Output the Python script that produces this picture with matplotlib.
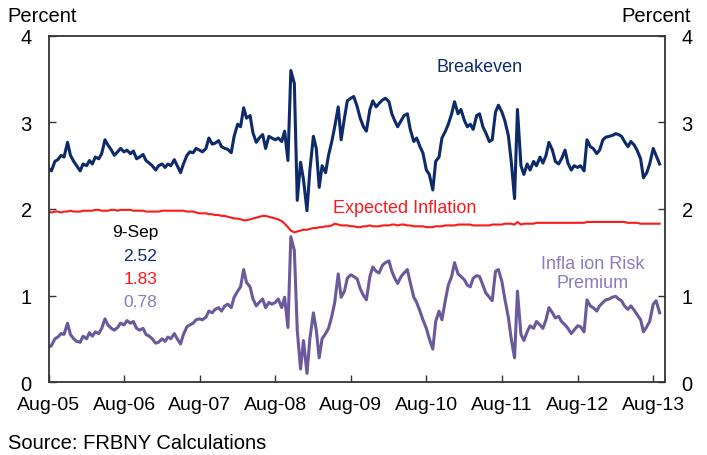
import pandas as pd
import matplotlib
matplotlib.use("Agg")
import matplotlib.pyplot as plt

plt.rcParams["font.family"] = ["Liberation Sans", "DejaVu Sans"]

# ===================== Data (semi-monthly) =====================
breakeven = [
    # Aug-05 .. Aug-06
    2.47, 2.44, 2.55, 2.57, 2.62, 2.60, 2.77, 2.62, 2.55, 2.50, 2.44, 2.52, 2.50,
    2.56, 2.52, 2.60, 2.58, 2.64, 2.80, 2.74, 2.68, 2.62, 2.66, 2.70, 2.66,
    # -> Aug-07
    2.68, 2.64, 2.67, 2.58, 2.60, 2.63, 2.56, 2.53, 2.50, 2.45, 2.50, 2.52,
    2.48, 2.52, 2.50, 2.57, 2.50, 2.42, 2.52, 2.62, 2.66, 2.65, 2.70, 2.68,
    # -> Aug-08
    2.66, 2.70, 2.82, 2.75, 2.76, 2.79, 2.72, 2.70, 2.69, 2.65, 2.84, 2.98,
    2.95, 3.17, 3.05, 3.08, 2.88, 2.77, 2.82, 2.86, 2.70, 2.84, 2.82, 2.80,
    # -> Aug-09
    2.82, 2.78, 2.90, 2.56, 3.60, 3.45, 2.10, 2.54, 2.34, 1.98, 2.45, 2.84,
    2.70, 2.25, 2.50, 2.42, 2.62, 2.78, 2.95, 3.18, 2.80, 3.05, 3.25, 3.28,
    # -> Aug-10
    3.30, 3.18, 3.05, 2.95, 2.90, 3.15, 3.25, 3.18, 3.22, 3.26, 3.28, 3.24,
    3.10, 3.02, 2.95, 3.02, 3.08, 3.10, 2.92, 2.78, 2.82, 2.72, 2.65, 2.45,
    # -> Aug-11
    2.40, 2.22, 2.55, 2.60, 2.82, 2.90, 2.98, 3.10, 3.24, 3.10, 3.15, 3.02,
    2.95, 2.98, 2.92, 3.08, 3.10, 2.95, 2.88, 2.78, 2.80, 3.12, 3.20, 3.12,
    # -> Aug-12
    3.02, 2.85, 2.55, 2.12, 3.15, 2.50, 2.40, 2.52, 2.45, 2.55, 2.50, 2.60,
    2.53, 2.62, 2.77, 2.68, 2.55, 2.52, 2.58, 2.68, 2.53, 2.45, 2.50, 2.48,
    # -> Sep-13
    2.50, 2.44, 2.80, 2.72, 2.70, 2.64, 2.68, 2.80, 2.83, 2.84, 2.85, 2.87,
    2.86, 2.84, 2.78, 2.72, 2.78, 2.74, 2.68, 2.58, 2.36, 2.42, 2.52, 2.70,
    2.62, 2.52,
]

expected_inflation = [
    1.97, 1.96, 1.97, 1.97, 1.96, 1.97, 1.97, 1.98, 1.97, 1.97, 1.97, 1.98, 1.98,
    1.98, 1.98, 1.99, 1.99, 1.98, 1.98, 1.98, 1.99, 1.99, 1.98, 1.99, 1.99,
    1.99, 1.99, 1.98, 1.98, 1.98, 1.98, 1.97, 1.97, 1.97, 1.97, 1.97, 1.98,
    1.98, 1.98, 1.98, 1.98, 1.98, 1.98, 1.98, 1.97, 1.97, 1.97, 1.96, 1.95,
    1.95, 1.95, 1.94, 1.94, 1.93, 1.93, 1.92, 1.92, 1.91, 1.90, 1.89, 1.89,
    1.88, 1.87, 1.87, 1.88, 1.89, 1.90, 1.91, 1.92, 1.92, 1.91, 1.90, 1.89,
    1.88, 1.86, 1.83, 1.79, 1.75, 1.73, 1.74, 1.75, 1.76, 1.76, 1.77, 1.78,
    1.78, 1.79, 1.79, 1.80, 1.80, 1.81, 1.83, 1.82, 1.81, 1.81, 1.81, 1.80,
    1.80, 1.79, 1.79, 1.80, 1.80, 1.81, 1.80, 1.80, 1.80, 1.81, 1.81, 1.81,
    1.82, 1.82, 1.81, 1.82, 1.82, 1.81, 1.81, 1.80, 1.80, 1.80, 1.80, 1.79,
    1.79, 1.79, 1.80, 1.80, 1.80, 1.81, 1.81, 1.81, 1.81, 1.82, 1.82, 1.82,
    1.82, 1.82, 1.81, 1.81, 1.81, 1.81, 1.81, 1.81, 1.82, 1.82, 1.82, 1.82,
    1.83, 1.83, 1.83, 1.82, 1.85, 1.82, 1.83, 1.83, 1.83, 1.83, 1.84, 1.84,
    1.84, 1.84, 1.84, 1.84, 1.84, 1.84, 1.84, 1.84, 1.84, 1.84, 1.84, 1.84,
    1.84, 1.84, 1.85, 1.85, 1.85, 1.85, 1.85, 1.85, 1.85, 1.85, 1.85, 1.85,
    1.85, 1.85, 1.85, 1.84, 1.84, 1.84, 1.84, 1.83, 1.83, 1.83, 1.83, 1.83,
    1.83, 1.83,
]

risk_premium = [
    0.40, 0.42, 0.50, 0.52, 0.56, 0.55, 0.68, 0.55, 0.50, 0.47, 0.46, 0.53, 0.50,
    0.57, 0.53, 0.58, 0.56, 0.62, 0.73, 0.66, 0.62, 0.60, 0.63, 0.68, 0.66,
    0.71, 0.68, 0.70, 0.62, 0.60, 0.62, 0.55, 0.53, 0.50, 0.45, 0.46, 0.50,
    0.47, 0.52, 0.50, 0.56, 0.50, 0.44, 0.55, 0.64, 0.66, 0.68, 0.72, 0.73,
    0.72, 0.75, 0.82, 0.80, 0.84, 0.86, 0.82, 0.88, 0.90, 0.86, 0.98, 1.05,
    1.10, 1.30, 1.15, 1.10, 0.96, 0.88, 0.92, 0.96, 0.86, 0.92, 0.90, 0.92,
    0.96, 0.86, 0.98, 0.63, 1.68, 1.52, 0.60, 0.15, 0.48, 0.10, 0.50, 0.80,
    0.60, 0.28, 0.50, 0.56, 0.62, 0.76, 0.92, 1.25, 0.98, 1.05, 1.20, 1.24,
    1.22, 1.19, 1.08, 1.00, 0.95, 1.22, 1.33, 1.28, 1.26, 1.35, 1.38, 1.40,
    1.28, 1.20, 1.14, 1.22, 1.26, 1.30, 1.15, 0.98, 0.92, 0.82, 0.72, 0.62,
    0.50, 0.38, 0.70, 0.82, 0.72, 0.95, 1.12, 1.22, 1.38, 1.25, 1.22, 1.18,
    1.12, 1.10, 1.20, 1.23, 1.22, 1.12, 1.03, 0.98, 0.94, 1.28, 1.30, 1.16,
    0.96, 0.75, 0.50, 0.28, 1.05, 0.55, 0.48, 0.58, 0.65, 0.62, 0.70, 0.66,
    0.62, 0.72, 0.86, 0.80, 0.74, 0.76, 0.70, 0.66, 0.62, 0.56, 0.60, 0.65,
    0.64, 0.58, 0.95, 0.88, 0.86, 0.82, 0.88, 0.92, 0.95, 0.96, 0.98, 0.99,
    0.96, 0.94, 0.88, 0.84, 0.88, 0.83, 0.78, 0.72, 0.58, 0.64, 0.70, 0.90,
    0.94, 0.80,
]

dates = pd.date_range("2005-08-01", periods=len(breakeven), freq="SMS")

tick_dates = pd.date_range("2005-08-01", "2013-08-01", freq="12MS")
tick_labels = [d.strftime("%b-%y") for d in tick_dates]

latest_label = "9-Sep"
latest_values = ["2.52", "1.83", "0.78"]

# ===================== Styling =====================
navy = "#0d2a6b"
red = "#ff1a1a"
purple = "#6a5a9c"
light_purple = "#8a7bbd"

fig = plt.figure(figsize=(7.07, 4.56), dpi=100)
ax = fig.add_axes([0.0686, 0.160, 0.8720, 0.759])

ax.plot(dates, breakeven, color=navy, lw=2.2, solid_joinstyle="round")
ax.plot(dates, expected_inflation, color=red, lw=1.5)
ax.plot(dates, risk_premium, color=purple, lw=2.2, solid_joinstyle="round")

ax.set_xlim(pd.Timestamp("2005-08-01"), pd.Timestamp("2013-09-27"))
ax.set_ylim(0, 4)
ax.set_yticks([0, 1, 2, 3, 4])
ax.set_xticks(tick_dates)
ax.set_xticklabels(tick_labels)

for s in ax.spines.values():
    s.set_color("#333333")
    s.set_linewidth(1.3)

ax.tick_params(axis="y", direction="in", length=5, width=1, right=True,
               labelright=True, labelsize=14.5, pad=12, colors="#333333",
               labelcolor="black")
ax.tick_params(axis="x", direction="in", length=5, width=1, labelsize=14,
               pad=10, colors="#333333", labelcolor="black")

# Axis unit labels
fig.text(0.011, 0.963, "Percent", fontsize=14.5, ha="left", va="center")
fig.text(0.977, 0.963, "Percent", fontsize=14.5, ha="right", va="center")

# Series labels
ax.text(0.700, 0.913, "Breakeven", transform=ax.transAxes, color=navy,
        fontsize=13, ha="center", va="center")
ax.text(0.578, 0.503, "Expected Inflation", transform=ax.transAxes, color=red,
        fontsize=13, ha="center", va="center")
ax.text(0.882, 0.315, "Infla ion Risk\nPremium", transform=ax.transAxes,
        color=light_purple, fontsize=13, ha="center", va="center",
        linespacing=1.1)

# Latest values
ax.text(0.178, 0.434, latest_label, transform=ax.transAxes, color="black",
        fontsize=12.5, ha="right", va="center")
for val, c, yy in zip(latest_values, [navy, red, light_purple], [0.365, 0.299, 0.232]):
    ax.text(0.176, yy, val, transform=ax.transAxes, color=c, fontsize=12.5,
            ha="right", va="center")

fig.text(0.011, 0.028, "Source: FRBNY Calculations", fontsize=14.5,
         ha="left", va="center")

fig.savefig("out.png", dpi=100)
